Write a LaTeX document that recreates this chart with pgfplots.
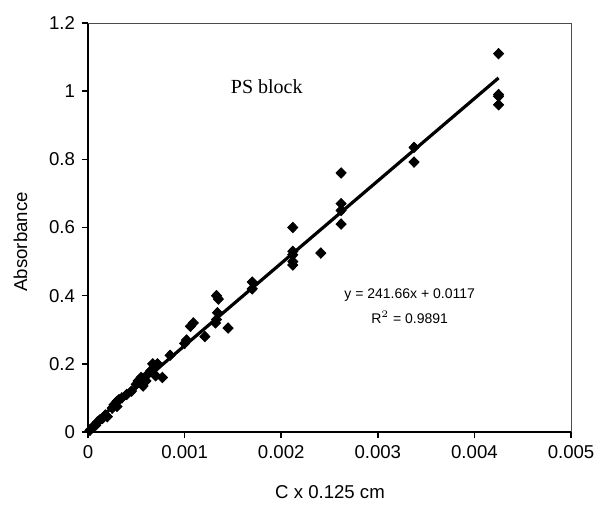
\documentclass[border=0pt]{standalone}
\usepackage{pgfplots}
\pgfplotsset{compat=1.18}
\usepackage{fontspec}
\setmainfont{Liberation Sans}
\newfontfamily\timesfont{Liberation Serif}
\begin{document}
\begin{tikzpicture}
\begin{axis}[
  scale only axis,
  width=241.5pt, height=204.5pt,
  xmin=0, xmax=0.005, ymin=0, ymax=1.2,
  scaled x ticks=false, scaled y ticks=false,
  axis x line*=bottom, axis y line*=left,
  axis line style={line width=0.9pt, -},
  xtick={0,0.001,0.002,0.003,0.004,0.005},
  xticklabels={0,0.001,0.002,0.003,0.004,0.005},
  ytick={0,0.2,0.4,0.6,0.8,1,1.2},
  yticklabels={0,0.2,0.4,0.6,0.8,1,1.2},
  tick align=outside, major tick length=3pt,
  tick style={line width=0.8pt, black},
  tick label style={font=\fontsize{9.3}{10}\selectfont},
  xlabel={C x 0.125 cm}, ylabel={Absorbance},
  label style={font=\fontsize{9.3}{10}\selectfont},
  xlabel style={at={(axis description cs:0.501,-0.1467)}, anchor=center},
  ylabel style={at={(axis description cs:-0.1400,0.465)}, anchor=center},
  clip=false,
]
\addplot[only marks, mark=diamond*, mark size=2.6pt, mark options={xscale=1.3, fill=black, draw=black}] coordinates {
(0.00002,0.005) (0.00005,0.015) (0.00008,0.02) (0.0001,0.03) (0.00012,0.035)
(0.00015,0.04) (0.00018,0.05) (0.0002,0.045) (0.00025,0.07) (0.00027,0.08)
(0.0003,0.075) (0.0003,0.09) (0.00032,0.095) (0.00035,0.1) (0.0004,0.11)
(0.00045,0.12) (0.0005,0.14) (0.00052,0.15) (0.00055,0.16) (0.00057,0.135)
(0.0006,0.15) (0.00062,0.17) (0.00065,0.18) (0.00067,0.2) (0.0007,0.19)
(0.0007,0.165) (0.00072,0.2) (0.00077,0.16) (0.00085,0.225) (0.001,0.26)
(0.00102,0.27) (0.00106,0.31) (0.00109,0.32) (0.00121,0.28) (0.00132,0.32)
(0.00133,0.40) (0.00135,0.39) (0.00134,0.35) (0.00133,0.33) (0.00145,0.305)
(0.0017,0.44) (0.0017,0.42) (0.00212,0.60) (0.00212,0.53) (0.00212,0.52)
(0.00212,0.50) (0.00212,0.49) (0.00241,0.525) (0.00262,0.76) (0.00262,0.67)
(0.00262,0.65) (0.00262,0.61) (0.003375,0.835) (0.003375,0.792)
(0.00425,1.11) (0.00425,0.99) (0.00425,0.985) (0.00425,0.96)
};
\addplot[black, line width=1.6pt] coordinates {(0,0.0117) (0.00425,1.0388)};
\draw[line width=0.4pt, black!70] (rel axis cs:0,1) -- (rel axis cs:1,1) -- (rel axis cs:1,0);
\draw[line width=0.8pt] (rel axis cs:1,0) -- ++(0,-3pt);
\node[font=\timesfont\fontsize{10}{12}\selectfont] at (axis cs:0.00185,1.012) {PS block};
\node[font=\fontsize{7}{8}\selectfont] at (axis cs:0.00333,0.402) {y = 241.66x + 0.0117};
\node[font=\fontsize{7}{8}\selectfont] at (axis cs:0.00333,0.337) {R$^2$ = 0.9891};
\coordinate (bl) at (rel axis cs:-0.1822,-0.1907);
\coordinate (tr) at (rel axis cs:1.060,1.0562);
\end{axis}
\pgfresetboundingbox
\path[use as bounding box] (bl) rectangle (tr);
\end{tikzpicture}
\end{document}
